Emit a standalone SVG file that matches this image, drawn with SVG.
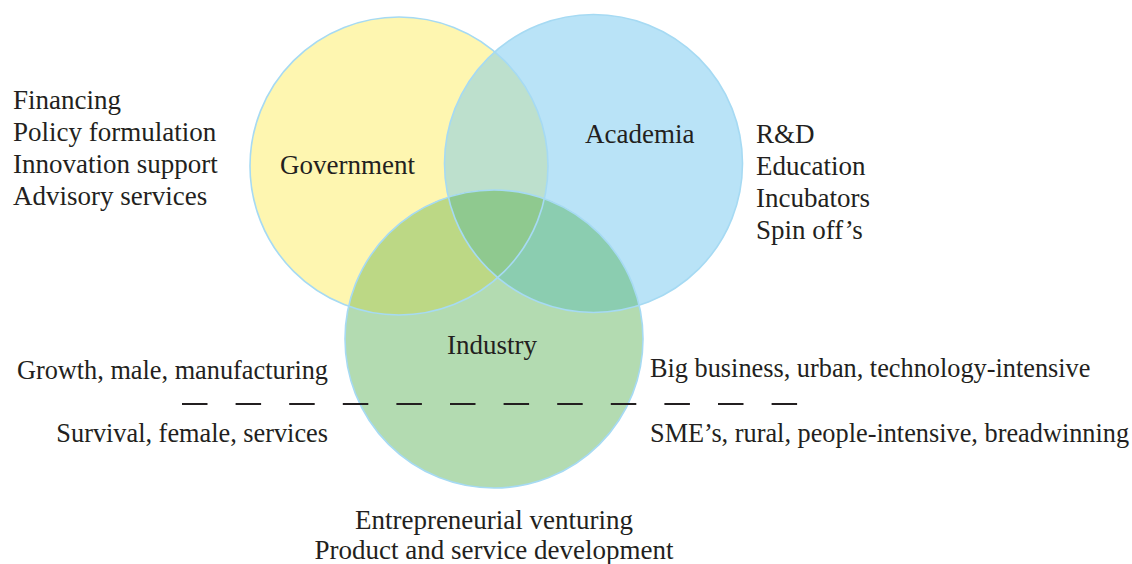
<svg xmlns="http://www.w3.org/2000/svg" width="1132" height="564" viewBox="0 0 1132 564">
<style>
text{font-family:"Liberation Serif","Times New Roman",serif;font-size:27px;fill:#231f20}
.s{font-size:26.3px}
.ol{fill:none;stroke:#a6daf3;stroke-width:1.6}
</style>
<defs>
<clipPath id="cg"><circle cx="399" cy="166" r="149"/></clipPath>
<clipPath id="ca"><circle cx="593.5" cy="163.5" r="149"/></clipPath>
</defs>
<rect width="1132" height="564" fill="#ffffff"/>
<g id="government">
<circle cx="399" cy="166" r="149" fill="#fef6b0"/>
</g>
<g id="academia">
<circle cx="593.5" cy="163.5" r="149" fill="#b9e3f7"/>
<circle cx="593.5" cy="163.5" r="149" fill="#bde0cd" clip-path="url(#cg)"/>
</g>
<g id="industry">
<circle cx="494" cy="339" r="149" fill="#b3dbb1"/>
<circle cx="494" cy="339" r="149" fill="#bcd885" clip-path="url(#cg)"/>
<circle cx="494" cy="339" r="149" fill="#8bcdb0" clip-path="url(#ca)"/>
<g clip-path="url(#cg)"><circle cx="494" cy="339" r="149" fill="#8fc98f" clip-path="url(#ca)"/></g>
</g>
<g id="outlines">
<circle class="ol" cx="399" cy="166" r="149"/>
<circle class="ol" cx="593.5" cy="163.5" r="149"/>
<circle class="ol" cx="494" cy="339" r="149"/>
</g>
<g id="labels">
<text x="280" y="174">Government</text>
<text x="585" y="143">Academia</text>
<text x="447" y="354">Industry</text>
</g>
<g id="gov-list">
<text x="13" y="109">Financing</text>
<text x="13" y="141">Policy formulation</text>
<text x="13" y="173">Innovation support</text>
<text x="13" y="205">Advisory services</text>
</g>
<g id="acad-list">
<text x="756" y="143">R&amp;D</text>
<text x="756" y="175">Education</text>
<text x="756" y="207">Incubators</text>
<text x="756" y="239">Spin off’s</text>
</g>
<g id="connectors">
<line x1="182" y1="404" x2="798" y2="404" stroke="#231f20" stroke-width="2" stroke-dasharray="25.5 28.1"/>
</g>
<g id="side-labels">
<text class="s" x="328" y="379" text-anchor="end">Growth, male, manufacturing</text>
<text class="s" x="328" y="442" text-anchor="end">Survival, female, services</text>
<text class="s" x="650" y="377">Big business, urban, technology-intensive</text>
<text class="s" x="650" y="442">SME’s, rural, people-intensive, breadwinning</text>
</g>
<g id="ind-list">
<text x="494" y="529" text-anchor="middle">Entrepreneurial venturing</text>
<text x="494" y="559" text-anchor="middle">Product and service development</text>
</g>
</svg>
